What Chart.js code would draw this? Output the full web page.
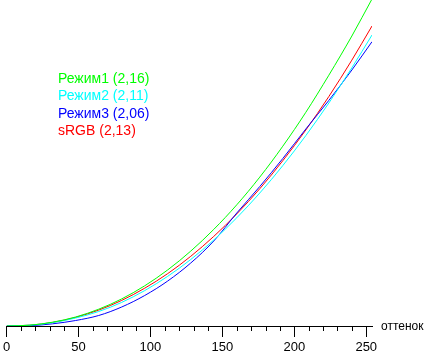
<!DOCTYPE html>
<html>
<head>
<meta charset="utf-8">
<script src="https://cdn.jsdelivr.net/npm/chart.js@4"></script>
<style>
  html, body { margin: 0; padding: 0; background: #fff; }
  #wrap { width: 424px; height: 353px; }
</style>
</head>
<body>
<div id="wrap"><canvas id="gamma" width="424" height="353"></canvas></div>
<script>
// shade levels (x axis)
var shades = [0, 16, 32, 48, 64, 80, 96, 112, 128, 144, 160, 176, 192, 208, 224, 240, 254];
// brightness
var mode1 = [0, 0.8, 3.8, 9.0, 16.8, 27.1, 40.2, 56.1, 74.9, 96.6, 121.2, 148.9, 179.8, 213.7, 250.8, 290.0, 327];
var mode2 = [0, 0.8, 3.4, 8.0, 14.5, 23.6, 35.4, 49.7, 66.5, 86.0, 108.2, 133.0, 160.4, 190.4, 223.0, 258.2, 291];
var mode3 = [0, 0.3, 2.2, 5.5, 10.5, 19.0, 30.5, 45.0, 63.0, 85.0, 113.0, 139.5, 167.5, 197.0, 225.6, 256.0, 284.3];
var srgb  = [0, 0.8, 3.6, 8.6, 15.9, 25.6, 37.8, 52.4, 69.7, 89.6, 112.1, 137.3, 165.3, 196.0, 229.5, 265.9, 300];

var seriesNames = ['Режим1 (2,16)', 'Режим2 (2,11)', 'Режим3 (2,06)', 'sRGB (2,13)'];
var seriesColors = ['#00ff00', '#00ffff', '#0000ff', '#ff0000'];
var xTitle = 'оттенок';

function pts(arr) {
    return arr.map(function (v, i) { return { x: shades[i], y: v }; });
}

var font = 'Liberation Sans, Arial, sans-serif';

// colored text legend + axis name + short ticks
var extras = {
    id: 'extras',
    afterDraw: function (chart) {
        var c = chart.ctx;
        var xs = chart.scales.x;
        var bottom = chart.chartArea.bottom;
        c.save();
        // minor ticks every 10
        c.strokeStyle = '#000';
        c.lineWidth = 1;
        c.beginPath();
        for (var v = 10; v <= 250; v += 10) {
            if (v % 50 === 0) continue;
            var px = Math.round(xs.getPixelForValue(v)) + 0.5;
            c.moveTo(px, bottom);
            c.lineTo(px, bottom + 5);
        }
        c.stroke();
        // legend
        c.font = '14px ' + font;
        c.textBaseline = 'middle';
        c.textAlign = 'left';
        var ys = [79, 96.5, 114, 131.5];
        for (var i = 0; i < seriesNames.length; i++) {
            c.fillStyle = seriesColors[i];
            c.fillText(seriesNames[i], 58, ys[i]);
        }
        // axis name
        c.font = '12px ' + font;
        c.fillStyle = '#000';
        c.fillText(xTitle, 381, bottom + 1);
        c.restore();
    }
};

var ctx = document.getElementById('gamma').getContext('2d');
var myChart = new Chart(ctx, {
    type: 'line',
    data: {
        datasets: [
            { label: seriesNames[0], data: pts(mode1), borderColor: seriesColors[0] },
            { label: seriesNames[1], data: pts(mode2), borderColor: seriesColors[1] },
            { label: seriesNames[2], data: pts(mode3), borderColor: seriesColors[2] },
            { label: seriesNames[3], data: pts(srgb),  borderColor: seriesColors[3] }
        ]
    },
    options: {
        responsive: false,
        animation: false,
        layout: { padding: { left: 4, right: 52, top: 0, bottom: 0 } },
        elements: {
            point: { radius: 0 },
            line: { borderWidth: 1, fill: false, cubicInterpolationMode: 'monotone' }
        },
        plugins: { legend: { display: false }, tooltip: { enabled: false } },
        scales: {
            x: {
                type: 'linear',
                min: 0,
                max: 254,
                afterFit: function (s) { s.height = 27; },
                border: { display: true, color: '#000', width: 1 },
                grid: {
                    display: true,
                    drawOnChartArea: false,
                    drawTicks: true,
                    tickLength: 11,
                    tickColor: function (c) {
                        return c.tick && c.tick.value % 50 === 0 ? '#000' : 'rgba(0,0,0,0)';
                    }
                },
                ticks: {
                    stepSize: 10,
                    includeBounds: false,
                    autoSkip: false,
                    maxRotation: 0,
                    padding: 3,
                    color: '#000',
                    font: { family: font, size: 13 },
                    callback: function (v) { return v % 50 === 0 ? String(v) : ''; }
                }
            },
            y: {
                display: false,
                min: 0,
                max: 326
            }
        }
    },
    plugins: [extras]
});
</script>
</body>
</html>
